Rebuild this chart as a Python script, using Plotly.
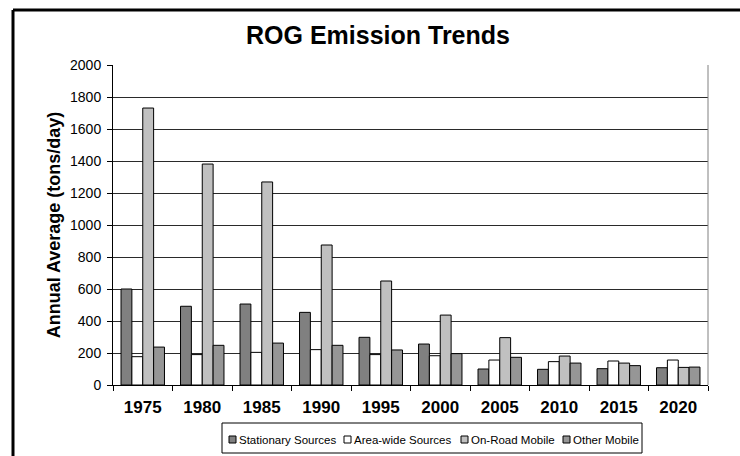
import plotly.graph_objects as go

years = ["1975", "1980", "1985", "1990", "1995", "2000", "2005", "2010", "2015", "2020"]
stationary = [600, 492, 506, 454, 298, 256, 100, 98, 102, 108]
area_wide = [177, 190, 204, 221, 190, 183, 156, 146, 150, 156]
on_road = [1731, 1381, 1269, 875, 650, 437, 296, 181, 137, 110]
other_mobile = [237, 248, 262, 248, 219, 196, 173, 137, 121, 112]

series_names = ["Stationary Sources", "Area-wide Sources", "On-Road Mobile", "Other Mobile"]
series_values = [stationary, area_wide, on_road, other_mobile]
series_colors = ["#808080", "#ffffff", "#c0c0c0", "#969696"]
y_ticks = [0, 200, 400, 600, 800, 1000, 1200, 1400, 1600, 1800, 2000]

W, H = 740, 456
L, R, T, B = 113, 32, 65, 71
pw, ph = W - L - R, H - T - B
FONT = "Arial, Liberation Sans, sans-serif"

fig = go.Figure()
for name, vals, col in zip(series_names, series_values, series_colors):
    fig.add_trace(go.Bar(
        x=years, y=vals, name=name, showlegend=False,
        marker=dict(color=col, line=dict(color="#000000", width=1)),
    ))

def px_x(p):
    return (p - L) / pw

def px_y(p):
    return (H - B - p) / ph

frame_x = px_x(13)
frame_y = px_y(10)

shapes = [
    dict(type="line", xref="paper", yref="paper", x0=1, x1=1, y0=0, y1=1,
         line=dict(color="#808080", width=1)),
    dict(type="line", xref="paper", yref="paper", x0=frame_x, x1=frame_x,
         y0=px_y(H + 10), y1=frame_y, line=dict(color="#000000", width=3)),
    dict(type="line", xref="paper", yref="paper", x0=frame_x, x1=px_x(W + 10),
         y0=frame_y, y1=frame_y, line=dict(color="#000000", width=3)),
    # legend box
    dict(type="rect", xref="paper", yref="paper", x0=px_x(222), x1=px_x(642),
         y0=px_y(453), y1=px_y(423), line=dict(color="#000000", width=1),
         fillcolor="rgba(0,0,0,0)"),
]
annotations = []
legend_x = [229, 344, 461, 563]
for name, col, lx in zip(series_names, series_colors, legend_x):
    shapes.append(dict(type="rect", xref="paper", yref="paper",
                       x0=px_x(lx), x1=px_x(lx + 7), y0=px_y(443), y1=px_y(436),
                       fillcolor=col, line=dict(color="#000000", width=1)))
    annotations.append(dict(text=name, xref="paper", yref="paper",
                            x=px_x(lx + 8), y=px_y(440), xanchor="left", yanchor="middle",
                            showarrow=False, font=dict(size=11.5, family=FONT, color="#000000")))

fig.update_layout(
    width=W, height=H,
    margin=dict(l=L, r=R, t=T, b=B, autoexpand=False),
    paper_bgcolor="white", plot_bgcolor="white",
    font=dict(family=FONT, color="#000000"),
    barmode="group", bargap=0.27, bargroupgap=0,
    title=dict(text="<b>ROG Emission Trends</b>", font=dict(size=25),
               x=378 / W, xanchor="center", xref="container",
               y=1 - 35 / H, yanchor="middle", yref="container"),
    showlegend=False,
    xaxis=dict(type="category", showline=True, linecolor="#000000", linewidth=1,
               ticks="outside", tickson="boundaries", ticklen=5, tickcolor="#000000",
               tickfont=dict(size=17, family=FONT), ticklabelstandoff=7,
               tickprefix="<b>", ticksuffix="</b>",
               showgrid=False, fixedrange=True),
    yaxis=dict(range=[0, 2000], tickvals=y_ticks, showline=True, linecolor="#000000",
               linewidth=1, ticks="outside", ticklen=5, tickcolor="#000000",
               tickfont=dict(size=14), ticklabelstandoff=3,
               showgrid=True, gridcolor="#2a2a2a", gridwidth=1,
               zeroline=False, fixedrange=True,
               title=dict(text="<b>Annual Average (tons/day)</b>", font=dict(size=18), standoff=4)),
    shapes=shapes,
    annotations=annotations,
)

fig.write_html("out.html", config={"displayModeBar": False},
               post_script="document.body.style.margin='0';document.body.style.overflow='hidden';")
